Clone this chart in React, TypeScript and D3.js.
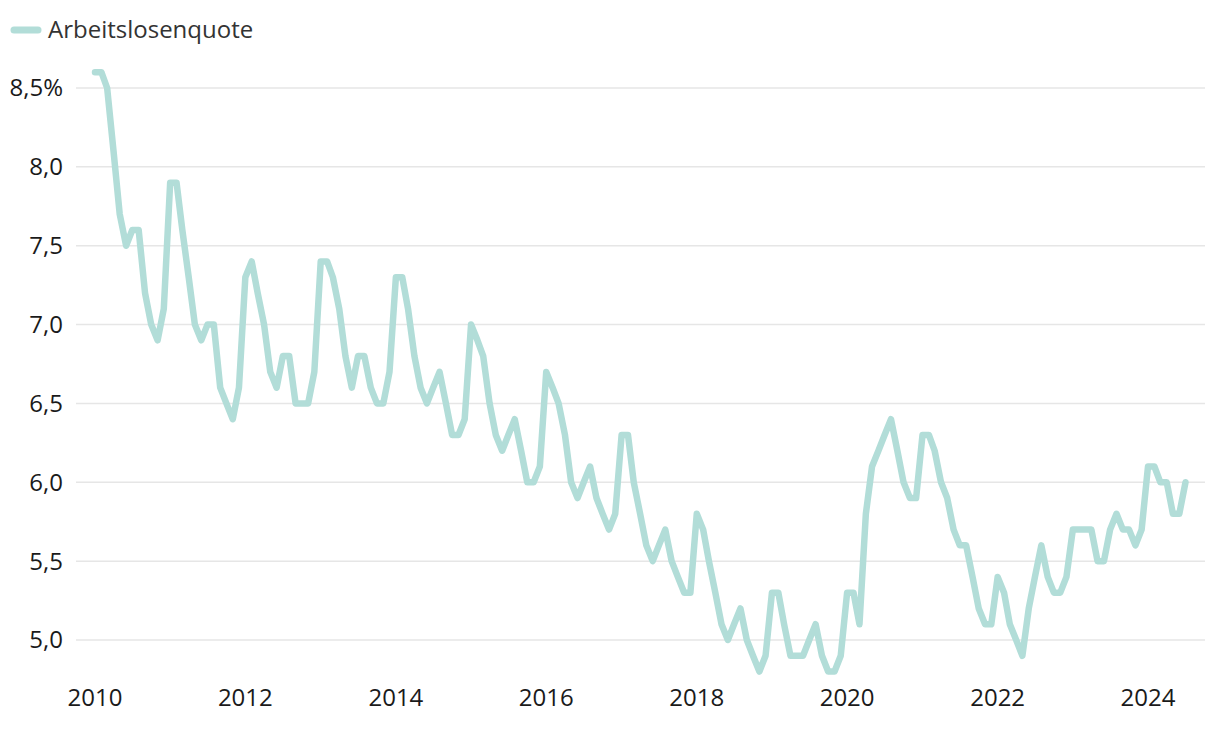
import React from "react";
import * as d3 from "d3";

const startYear = 2010;
const rates2010 = [8.6, 8.6, 8.5, 8.1, 7.7, 7.5, 7.6, 7.6, 7.2, 7.0, 6.9, 7.1];
const rates2011 = [7.9, 7.9, 7.6, 7.3, 7.0, 6.9, 7.0, 7.0, 6.6, 6.5, 6.4, 6.6];
const rates2012 = [7.3, 7.4, 7.2, 7.0, 6.7, 6.6, 6.8, 6.8, 6.5, 6.5, 6.5, 6.7];
const rates2013 = [7.4, 7.4, 7.3, 7.1, 6.8, 6.6, 6.8, 6.8, 6.6, 6.5, 6.5, 6.7];
const rates2014 = [7.3, 7.3, 7.1, 6.8, 6.6, 6.5, 6.6, 6.7, 6.5, 6.3, 6.3, 6.4];
const rates2015 = [7.0, 6.9, 6.8, 6.5, 6.3, 6.2, 6.3, 6.4, 6.2, 6.0, 6.0, 6.1];
const rates2016 = [6.7, 6.6, 6.5, 6.3, 6.0, 5.9, 6.0, 6.1, 5.9, 5.8, 5.7, 5.8];
const rates2017 = [6.3, 6.3, 6.0, 5.8, 5.6, 5.5, 5.6, 5.7, 5.5, 5.4, 5.3, 5.3];
const rates2018 = [5.8, 5.7, 5.5, 5.3, 5.1, 5.0, 5.1, 5.2, 5.0, 4.9, 4.8, 4.9];
const rates2019 = [5.3, 5.3, 5.1, 4.9, 4.9, 4.9, 5.0, 5.1, 4.9, 4.8, 4.8, 4.9];
const rates2020 = [5.3, 5.3, 5.1, 5.8, 6.1, 6.2, 6.3, 6.4, 6.2, 6.0, 5.9, 5.9];
const rates2021 = [6.3, 6.3, 6.2, 6.0, 5.9, 5.7, 5.6, 5.6, 5.4, 5.2, 5.1, 5.1];
const rates2022 = [5.4, 5.3, 5.1, 5.0, 4.9, 5.2, 5.4, 5.6, 5.4, 5.3, 5.3, 5.4];
const rates2023 = [5.7, 5.7, 5.7, 5.7, 5.5, 5.5, 5.7, 5.8, 5.7, 5.7, 5.6, 5.7];
const rates2024 = [6.1, 6.1, 6.0, 6.0, 5.8, 5.8, 6.0];

const yearlyRates = [
  rates2010, rates2011, rates2012, rates2013, rates2014, rates2015, rates2016,
  rates2017, rates2018, rates2019, rates2020, rates2021, rates2022, rates2023, rates2024,
];

const yTicks = [5.0, 5.5, 6.0, 6.5, 7.0, 7.5, 8.0, 8.5];
const xTickYears = [2010, 2012, 2014, 2016, 2018, 2020, 2022, 2024];
const seriesName = "Arbeitslosenquote";

type Pt = { date: Date; value: number };
const data: Pt[] = yearlyRates.flatMap((arr, yi) =>
  arr.map((v, mi) => ({ date: new Date(startYear + yi, mi, 1), value: v }))
);

const W = 1220;
const H = 730;
const FONT = "'Open Sans', 'Noto Sans', sans-serif";
const LINE_COLOR = "#b2ddd8";

export default function App() {
  const x = d3
    .scaleTime()
    .domain([new Date(2010, 0, 1), new Date(2024, 0, 1)])
    .range([95, 1148]);
  const y = d3.scaleLinear().domain([5.0, 8.5]).range([640, 88]);

  const line = d3
    .line<Pt>()
    .x((d) => x(d.date))
    .y((d) => y(d.value))
    .curve(d3.curveLinear);

  const fmt = (v: number, i: number) => {
    const s = v.toFixed(1).replace(".", ",");
    return i === yTicks.length - 1 ? s + "%" : s;
  };

  return (
    <div style={{ position: "absolute", left: 0, top: 0, width: W, height: H }}>
      <svg width={W} height={H} style={{ display: "block", fontFamily: FONT }}>
        <rect x={0} y={0} width={W} height={H} fill="#ffffff" />
        {yTicks.map((t) => (
          <line
            key={"g" + t}
            x1={76}
            x2={1205}
            y1={y(t)}
            y2={y(t)}
            stroke="#e6e6e6"
            strokeWidth={1.5}
          />
        ))}
        {yTicks.map((t, i) => (
          <text
            key={"yl" + t}
            x={63}
            y={y(t)}
            dy="0.35em"
            textAnchor="end"
            fontSize={24}
            fill="#1a1a1a"
          >
            {fmt(t, i)}
          </text>
        ))}
        {xTickYears.map((yr) => (
          <text
            key={"xl" + yr}
            x={x(new Date(yr, 0, 1))}
            y={706}
            textAnchor="middle"
            fontSize={24}
            fill="#1a1a1a"
          >
            {yr}
          </text>
        ))}
        <path
          d={line(data) || ""}
          fill="none"
          stroke={LINE_COLOR}
          strokeWidth={6.5}
          strokeLinejoin="round"
          strokeLinecap="round"
        />
        <line
          x1={14}
          x2={38}
          y1={30}
          y2={30}
          stroke={LINE_COLOR}
          strokeWidth={7}
          strokeLinecap="round"
        />
        <text x={48} y={38} fontSize={24} fill="#333333">
          {seriesName}
        </text>
      </svg>
    </div>
  );
}
